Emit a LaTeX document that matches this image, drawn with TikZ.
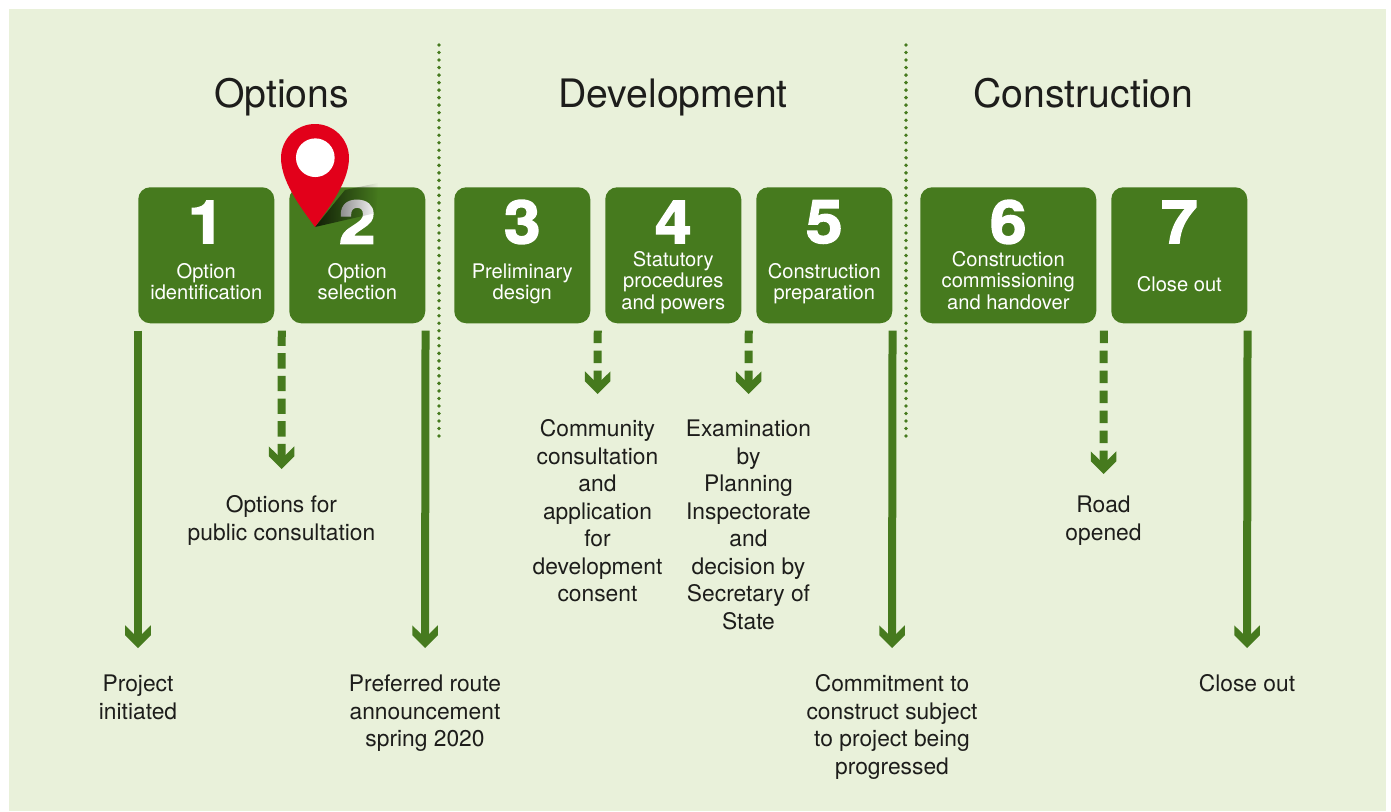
\documentclass[tikz,border=0pt]{standalone}
\usepackage{fontspec}
\setmainfont{TeX Gyre Heros}
\newfontfamily\digitfont[FakeBold=2.4,FakeStretch=1.1]{TeX Gyre Heros Bold}
\usetikzlibrary{arrows.meta}
\usetikzlibrary{calc}
\usetikzlibrary{fadings}
\definecolor{panelgreen}{HTML}{E9F1DA}
\definecolor{stagegreen}{HTML}{467A1E}
\definecolor{pinred}{HTML}{E2001A}
\definecolor{inktext}{HTML}{1D1D1B}
\pgfdeclarearrow{
  name = Chevron,
  setup code = {
    \pgfarrowssettipend{0pt}
    \pgfarrowssetlineend{-10.5pt}
    \pgfarrowssetvisualbackend{-17pt}
    \pgfarrowssetbackend{-17pt}
  },
  drawing code = {
    \pgfpathmoveto{\pgfpoint{0pt}{0pt}}
    \pgfpathlineto{\pgfpoint{-9.6pt}{9.6pt}}
    \pgfpathlineto{\pgfpoint{-17pt}{9.6pt}}
    \pgfpathlineto{\pgfpoint{-10.5pt}{3pt}}
    \pgfpathlineto{\pgfpoint{-10.5pt}{-3pt}}
    \pgfpathlineto{\pgfpoint{-17pt}{-9.6pt}}
    \pgfpathlineto{\pgfpoint{-9.6pt}{-9.6pt}}
    \pgfpathclose
    \pgfusepathqfill
  }
}
\tikzset{
  stage box/.style = {fill=stagegreen, rounded corners=9pt, inner sep=0pt,
    minimum height=102pt},
  stage digit/.style = {font=\digitfont\fontsize{45}{45}\selectfont, text=white,
    inner sep=0pt},
  stage text/.style = {font=\fontsize{15.1}{15.9}\selectfont, text=white,
    align=center, inner sep=0pt},
  phase title/.style = {font=\fontsize{29.4}{34}\selectfont, text=inktext,
    inner sep=0pt, anchor=base},
  milestone/.style = {font=\fontsize{17.1}{20.65}\selectfont, text=inktext,
    align=center, inner sep=0pt, anchor=north},
  divider/.style = {stagegreen, line width=2.9pt, line cap=round,
    dash pattern=on 0pt off 5.64pt},
  gate/.style = {stagegreen, line width=6pt, -{Chevron},
    shorten <=5.25pt, shorten >=18pt},
  soft gate/.style = {gate, dash pattern=on 9.5pt off 5.5pt, shorten >=17.25pt}
}
\begin{document}
\begin{tikzpicture}[x=0.75pt, y=-0.75pt]
  \useasboundingbox (0,0) rectangle (1391,811);
  \fill[panelgreen] (9,9) rectangle (1386,811);

  % Phase dividers
  \coordinate (diva) at (439,45);
  \coordinate (divb) at (439,440);
  \coordinate (divc) at (906,45);
  \coordinate (divd) at (906,440);
  \draw[divider] (diva) -- (divb);
  \draw[divider] (divc) -- (divd);

  \node[phase title] (options) at (281.5,107) {Options};
  \node[phase title] (development) at (673,107) {Development};
  \node[phase title] (construction) at (1083.5,107) {Construction};

  % Stages
  \foreach \name/\x/\w/\num/\ty/\txt in {
    one/138/136/1/97.5/{Option\\identification},
    two/289/136/2/97.5/{Option\\selection},
    three/454/136/3/97.5/{Preliminary\\design},
    four/605/136/4/96.5/{Statutory\\procedures\\and powers},
    five/756/136/5/97.5/{Construction\\preparation},
    six/920/176/6/96.5/{Construction\\commissioning\\and handover},
    seven/1111/136/7/100/{Close out}} {
    \node[stage box, minimum width=\w*0.75pt, anchor=north west] (\name) at (\x,187) {};
    \node[stage digit] (\name digit) at ($(\name.north)+(0,35)$) {\num};
    \node[stage text] (\name text) at ($(\name.north)+(0,\ty)$) {\strut\txt\strut};
  }

  % Location pin
  \fill[black, opacity=0.75, path fading=east]
    (315,227) -- (345,190) -- (378,183) -- (376,213) -- cycle;
  \fill[pinred] (315,227) .. controls (306,214) and (281,184) .. (281,158)
    arc[radius=34, start angle=180, end angle=360]
    .. controls (349,184) and (324,214) .. (315,227) -- cycle;
  \node[circle, fill=white, minimum size=29pt, inner sep=0pt] (pinhole) at (315.3,157.7) {};

  % Milestones
  \node[milestone] (initiated) at (138,672) {\strut Project\\initiated};
  \node[milestone] (public) at (281.5,493) {\strut Options for\\public consultation};
  \node[milestone] (preferred) at (425,672) {\strut Preferred route\\announcement\\spring 2020};
  \node[milestone] (community) at (597.5,417) {\strut Community\\consultation\\and\\application\\for\\development\\consent};
  \node[milestone] (examination) at (748.5,417) {\strut Examination\\by\\Planning\\Inspectorate\\and\\decision by\\Secretary of\\State};
  \node[milestone] (commitment) at (892,672) {\strut Commitment to\\construct subject\\to project being\\progressed};
  \node[milestone] (opened) at (1103.5,493) {\strut Road\\opened};
  \node[milestone] (closed) at (1247,672) {\strut Close out};

  \coordinate (gapa) at ($(one.south east)!0.5!(two.south west)$);
  \coordinate (gapb) at ($(three.south east)!0.5!(four.south west)$);
  \coordinate (gapc) at ($(four.south east)!0.5!(five.south west)$);
  \coordinate (gapd) at ($(six.south east)!0.5!(seven.south west)$);

  \draw[gate] (one.south west) -- (initiated.north);
  \draw[gate] (two.south east) -- (preferred.north);
  \draw[gate] (five.south east) -- (commitment.north);
  \draw[gate] (seven.south east) -- (closed.north);
  \draw[soft gate, dash pattern=on 11.5pt off 5.5pt, shorten >=18pt] (gapa) -- (public.north);
  \draw[soft gate] (gapb) -- (community.north);
  \draw[soft gate] (gapc) -- (examination.north);
  \draw[soft gate, shorten >=14.25pt] (gapd) -- (opened.north);
\end{tikzpicture}
\end{document}
